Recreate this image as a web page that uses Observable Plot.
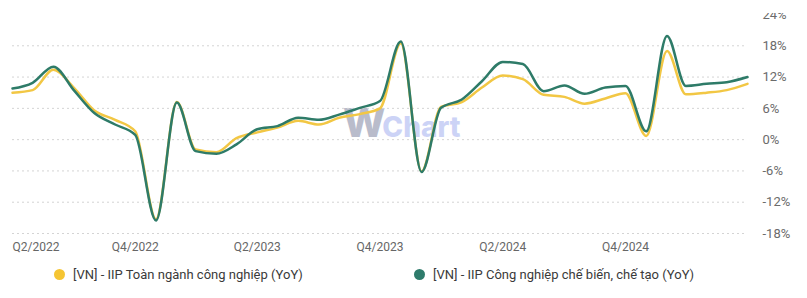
<!DOCTYPE html>
<html>
<head>
<meta charset="utf-8">
<script src="https://cdn.jsdelivr.net/npm/d3@7"></script>
<script src="https://cdn.jsdelivr.net/npm/@observablehq/plot@0.6"></script>
<style>
  html, body { margin: 0; padding: 0; background: #fff; }
  #wrap { position: relative; width: 807px; height: 298px; overflow: hidden; font-family: Roboto, "Noto Sans", sans-serif; }
  #chart { position: absolute; left: 0; top: 13px; z-index: 1; }
  #wm { position: absolute; left: 343px; top: 98px; z-index: 0; font-family: Inter, Roboto, sans-serif; font-weight: 800; white-space: nowrap; }
  #wm .w { font-size: 40px; color: #b9bccb; letter-spacing: -3px; }
  #wm .c { font-size: 28px; color: #ccd3f6; }
  .leg { position: absolute; top: 267px; display: flex; align-items: center; font-size: 13px; color: #3a3a3a; white-space: nowrap; }
  .dot { width: 11px; height: 11px; border-radius: 50%; margin-right: 8px; }
</style>
</head>
<body>
<div id="wrap">
  <div id="wm"><span class="w">W</span><span class="c">Chart</span></div>
  <div id="chart"></div>
  <div class="leg" id="leg1" style="left:54px"><span class="dot" style="background:#f5c533"></span><span>[VN] - IIP Toàn ngành công nghiệp (YoY)</span></div>
  <div class="leg" id="leg2" style="left:414px"><span class="dot" style="background:#2e7b6b"></span><span>[VN] - IIP Công nghiệp chế biến, chế tạo (YoY)</span></div>
</div>
<script>
const months = ["2022-06","2022-07","2022-08","2022-09","2022-10","2022-11","2022-12",
  "2023-01","2023-02","2023-03","2023-04","2023-05","2023-06","2023-07","2023-08","2023-09","2023-10","2023-11","2023-12",
  "2024-01","2024-02","2024-03","2024-04","2024-05","2024-06","2024-07","2024-08","2024-09","2024-10","2024-11","2024-12",
  "2025-01","2025-02","2025-03","2025-04","2025-05","2025-06"];
const seriesNames = ["[VN] - IIP Toàn ngành công nghiệp (YoY)", "[VN] - IIP Công nghiệp chế biến, chế tạo (YoY)"];
const toanNganh = [9.0, 9.5, 13.4, 9.9, 5.6, 3.8, 1.6,
  -15.3, 7.2, -1.9, -2.4, 0.3, 1.4, 2.3, 3.6, 2.9, 4.2, 4.9, 6.0,
  18.5, -6.1, 6.3, 7.2, 10.0, 12.3, 11.6, 8.6, 8.2, 6.9, 7.9, 8.9,
  0.7, 17.0, 8.7, 9.0, 9.5, 10.7];
const cheBien = [9.8, 10.9, 14.0, 9.4, 5.1, 2.9, 0.9,
  -15.5, 7.1, -2.2, -2.7, -0.9, 2.0, 2.6, 4.2, 3.8, 4.8, 6.1, 7.4,
  18.8, -6.2, 6.1, 7.7, 11.2, 14.9, 14.5, 9.3, 10.4, 8.8, 10.0, 10.3,
  1.6, 19.9, 10.3, 10.7, 11.0, 12.0];
const colors = ["#f2c744", "#2e7b68"];
const yTicks = [-18, -12, -6, 0, 6, 12, 18, 24];
const gridTicks = [-18, -12, -6, 0, 6, 12, 18];
const xTickDates = ["2022-06","2022-12","2023-06","2023-12","2024-06","2024-12"];
const xTickLabels = ["Q2/2022","Q4/2022","Q2/2023","Q4/2023","Q2/2024","Q4/2024"];

const parse = d3.utcParse("%Y-%m");
const rows = [];
months.forEach((m, i) => {
  rows.push({date: parse(m), value: toanNganh[i], series: seriesNames[0]});
  rows.push({date: parse(m), value: cheBien[i], series: seriesNames[1]});
});
const tickDates = xTickDates.map(parse);
const labelOf = new Map(tickDates.map((d, i) => [+d, xTickLabels[i]]));

const plot = Plot.plot({
  width: 807,
  height: 246,
  marginLeft: 12,
  marginRight: 60,
  marginTop: 1,
  marginBottom: 26,
  style: {fontFamily: "Roboto, sans-serif", background: "transparent", overflow: "hidden"},
  x: {type: "utc", domain: [parse(months[0]), parse(months[months.length - 1])]},
  y: {domain: [-18, 24]},
  color: {domain: seriesNames, range: colors},
  marks: [
    Plot.gridY(gridTicks, {stroke: "#d4d4d4", strokeOpacity: 1, strokeDasharray: "2,3", strokeWidth: 1}),
    Plot.axisY(yTicks, {anchor: "right", tickSize: 0, tickPadding: 15, textAnchor: "start",
      tickFormat: d => d + "%", fontSize: 13, fill: "#6b6b6b", label: null}),
    Plot.axisX(tickDates.slice(0, 1), {tickSize: 0, tickPadding: 9, textAnchor: "start",
      tickFormat: d => labelOf.get(+d), fontSize: 12, fill: "#666", label: null}),
    Plot.axisX(tickDates.slice(1), {tickSize: 0, tickPadding: 9, textAnchor: "middle",
      tickFormat: d => labelOf.get(+d), fontSize: 12, fill: "#666", label: null}),
    Plot.lineY(rows, {x: "date", y: "value", z: "series", stroke: "series", strokeWidth: 2.5,
      curve: "monotone-x", strokeLinejoin: "round", strokeLinecap: "round"})
  ]
});
document.getElementById("chart").appendChild(plot);
</script>
</body>
</html>
